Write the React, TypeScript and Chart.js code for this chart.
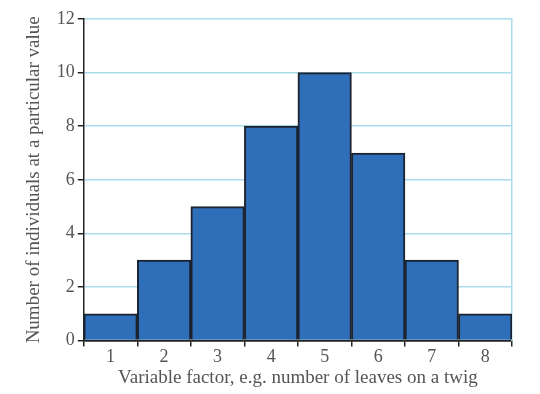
import React, { useEffect, useRef } from "react";
import { Chart, registerables } from "chart.js";

Chart.register(...registerables);

const categories = ["1", "2", "3", "4", "5", "6", "7", "8"];
const counts = [1, 3, 5, 8, 10, 7, 3, 1];
const yTicks = [0, 2, 4, 6, 8, 10, 12];
const xTitle = "Variable factor, e.g. number of leaves on a twig";
const yTitle = "Number of individuals at a particular value";

export default function App() {
  const ref = useRef<HTMLCanvasElement | null>(null);
  useEffect(() => {
    if (!ref.current) return;
    const font = "'Liberation Serif', 'DejaVu Serif', serif";
    const chart = new Chart(ref.current, {
      type: "bar",
      data: {
        labels: categories,
        datasets: [
          {
            data: counts,
            backgroundColor: "#2f6fba",
            borderColor: "#1b2330",
            borderWidth: 2,
            categoryPercentage: 1,
            barPercentage: 1,
          },
        ],
      },
      options: {
        animation: false,
        responsive: false,
        devicePixelRatio: 1,
        layout: { padding: { top: 19, right: 28, left: 23, bottom: 5 } },
        plugins: { legend: { display: false }, tooltip: { enabled: false } },
        scales: {
          x: {
            offset: true,
            grid: {
              offset: true,
              drawOnChartArea: false,
              drawTicks: true,
              tickLength: 6,
              color: "#222",
              lineWidth: 1.5,
            },
            border: { color: "#222", width: 1.5 },
            ticks: { color: "#555", font: { family: font, size: 18 }, padding: 0 },
            title: {
              display: true,
              text: xTitle,
              color: "#555",
              font: { family: font, size: 19 },
              padding: { top: -2, bottom: 0 },
            },
          },
          y: {
            min: 0,
            max: 12,
            afterBuildTicks: (axis: any) => {
              axis.ticks = yTicks.map((v) => ({ value: v }));
            },
            grid: {
              color: (ctx: any) => (ctx.tick && ctx.tick.value === 0 ? "#222" : "#aadcec"),
              tickColor: "#222",
              tickLength: 6,
              lineWidth: 1.5,
            },
            border: { color: "#222", width: 1.5 },
            ticks: { color: "#555", font: { family: font, size: 18 }, padding: 3 },
            title: {
              display: true,
              text: yTitle,
              color: "#555",
              font: { family: font, size: 19 },
              padding: { top: 0, bottom: 8 },
            },
          },
          y2: {
            position: "right",
            min: 0,
            max: 12,
            grid: { drawOnChartArea: false, drawTicks: false },
            border: { color: "#aadcec", width: 1.5 },
            ticks: { display: false },
          },
        },
      },
    } as any);
    return () => chart.destroy();
  }, []);
  return (
    <div style={{ position: "fixed", left: 0, top: 0, width: 540, height: 394, background: "#fff" }}>
      <canvas ref={ref} width={540} height={394} style={{ display: "block" }} />
    </div>
  );
}
